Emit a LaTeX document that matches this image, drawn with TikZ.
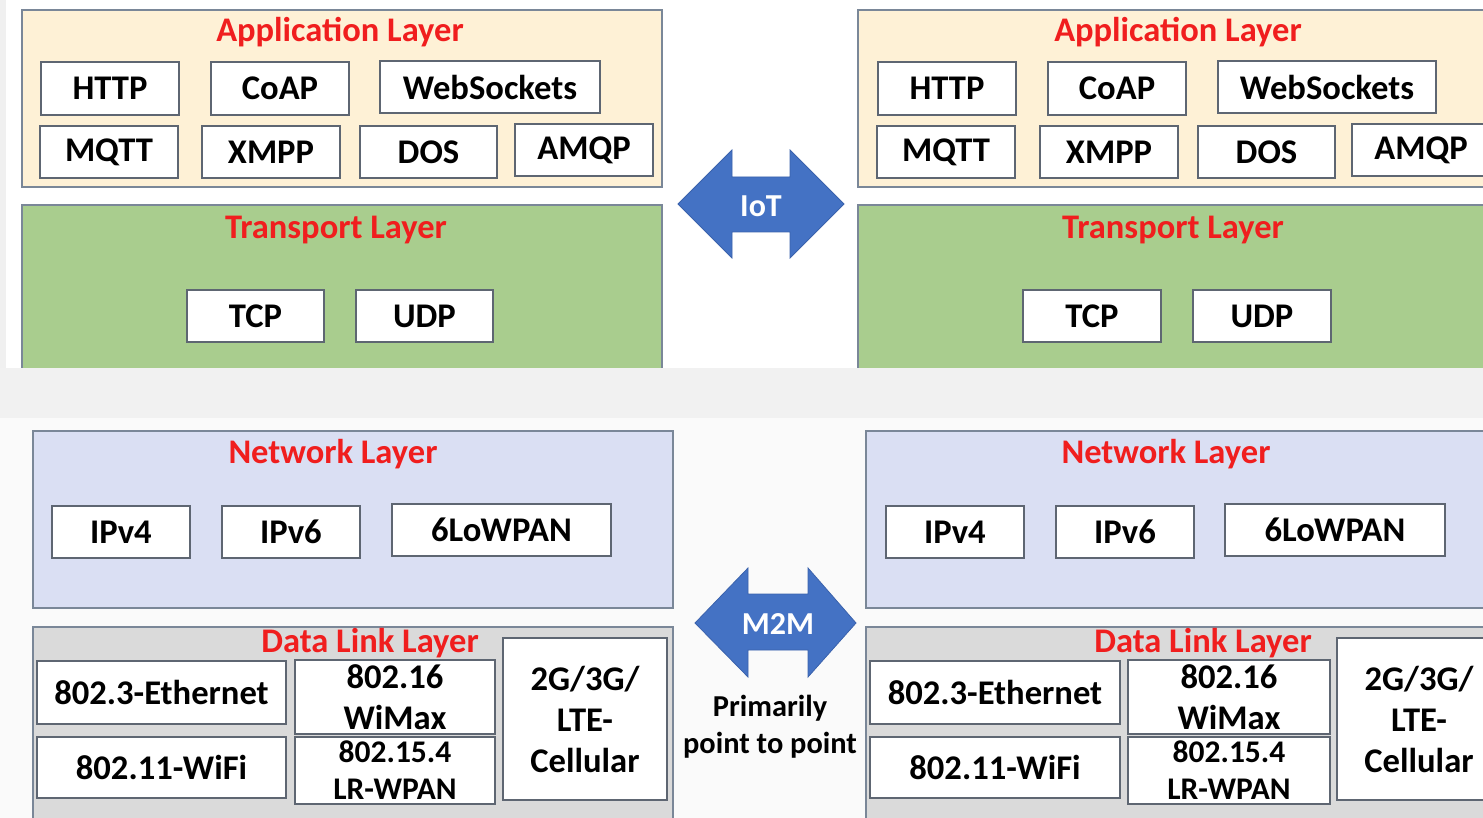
\documentclass[tikz,border=0pt]{standalone}
\usepackage{fontspec}
\setmainfont{Carlito}
\definecolor{appfill}{HTML}{FEF1D6}
\definecolor{trfill}{HTML}{A9CD8E}
\definecolor{netfill}{HTML}{DADFF3}
\definecolor{dlfill}{HTML}{DADADA}
\definecolor{layborder}{HTML}{7A8798}
\definecolor{boxborder}{HTML}{5E6672}
\definecolor{titlered}{HTML}{F01E1E}
\definecolor{arrowblue}{HTML}{4472C4}
\definecolor{arrowedge}{HTML}{3A62AC}
\definecolor{strip}{HTML}{F1F1F1}
\definecolor{lowbg}{HTML}{FAFAFA}
\tikzset{
  pbox/.style={draw=boxborder, line width=1.6pt, fill=white, inner sep=0pt,
    align=center, font=\fontsize{34.6}{41}\selectfont\bfseries},
  layer/.style={draw=layborder, line width=1.6pt},
  ltitle/.style={inner sep=0pt, text=titlered, font=\fontsize{34.5}{40}\selectfont\bfseries},
  arrowlbl/.style={inner sep=0pt, text=white, font=\fontsize{32}{38}\selectfont\bfseries},
  note/.style={inner sep=0pt, align=center, font=\fontsize{30.4}{37}\selectfont\bfseries},
  smallbox/.style={font=\fontsize{31.5}{37}\selectfont\bfseries}
}
\newcommand\pbx[7][]{\node[pbox,#1, minimum width={#5-#3}, minimum height={#6-#4}] (#2) at ({(#3+#5)/2},{(#4+#6)/2}) {#7};}
\begin{document}
\begin{tikzpicture}[x=1pt,y=-1pt]
\useasboundingbox (0,0) rectangle (1483,818);
\clip (0,0) rectangle (1483,818);
% backgrounds
\fill[white] (0,0) rectangle (1483,368);
\fill[black!6] (0,0) rectangle (6,368);
\fill[lowbg] (0,418) rectangle (1483,818);
% ===== top left =====
\draw[layer, fill=appfill] (22,10) rectangle (662,187);
\node[ltitle] (appL) at (340,32) {Application Layer};
\pbx{httpL}{41}{62}{179}{115}{HTTP}
\pbx{coapL}{211}{62}{349}{115}{CoAP}
\pbx{wsL}{380}{61}{600}{113}{WebSockets}
\pbx{mqttL}{40}{126}{178}{178}{MQTT}
\pbx{xmppL}{202}{126}{340}{178}{XMPP}
\pbx{dosL}{360}{126}{497}{178}{DOS}
\pbx{amqpL}{515}{124}{653}{176}{AMQP}
\draw[layer, fill=trfill] (22,205) rectangle (662,390);
\node[ltitle] (trL) at (336,230) {Transport Layer};
\pbx{tcpL}{187}{290}{324}{342}{TCP}
\pbx{udpL}{356}{290}{493}{342}{UDP}
% ===== top right =====
\draw[layer, fill=appfill] (858,10) rectangle (1500,187);
\node[ltitle] (appR) at (1178,32) {Application Layer};
\pbx{httpR}{878}{62}{1016}{115}{HTTP}
\pbx{coapR}{1048}{62}{1186}{115}{CoAP}
\pbx{wsR}{1218}{61}{1436}{113}{WebSockets}
\pbx{mqttR}{877}{126}{1015}{178}{MQTT}
\pbx{xmppR}{1040}{126}{1178}{178}{XMPP}
\pbx{dosR}{1198}{126}{1335}{178}{DOS}
\pbx{amqpR}{1352}{124}{1490}{176}{AMQP}
\draw[layer, fill=trfill] (858,205) rectangle (1500,390);
\node[ltitle] (trR) at (1173,230) {Transport Layer};
\pbx{tcpR}{1023}{290}{1161}{342}{TCP}
\pbx{udpR}{1193}{290}{1331}{342}{UDP}
% IoT arrow
\filldraw[fill=arrowblue, draw=arrowedge, line width=0.8pt]
  (678,204) -- (732,150) -- (732,177) -- (790,177) -- (790,150) -- (844,204)
  -- (790,258) -- (790,232) -- (732,232) -- (732,258) -- cycle;
\node[arrowlbl] (iot) at (761,206) {IoT};
% strip
\fill[strip] (0,368) rectangle (1483,418);
% ===== bottom left =====
\draw[layer, fill=netfill] (33,431) rectangle (673,608);
\node[ltitle] (netL) at (333,454) {Network Layer};
\pbx{ip4L}{52}{506}{190}{558}{IPv4}
\pbx{ip6L}{222}{506}{360}{558}{IPv6}
\pbx{lowL}{392}{504}{611}{556}{6LoWPAN}
\draw[layer, fill=dlfill] (33,627) rectangle (673,840);
\node[ltitle] (dlL) at (370,643) {Data Link Layer};
\pbx{ethL}{37}{661}{286}{724}{802.3-Ethernet}
\pbx{wifiL}{37}{737}{286}{798}{802.11-WiFi}
\pbx{wimaxL}{295}{660}{495}{734}{802.16\\WiMax}
\pbx[smallbox]{lrL}{295}{737}{495}{804}{802.15.4\\LR-WPAN}
\pbx{cellL}{503}{638}{667}{800}{2G/3G/\\LTE-\\Cellular}
% ===== bottom right =====
\draw[layer, fill=netfill] (866,431) rectangle (1500,608);
\node[ltitle] (netR) at (1166,454) {Network Layer};
\pbx{ip4R}{886}{506}{1024}{558}{IPv4}
\pbx{ip6R}{1056}{506}{1194}{558}{IPv6}
\pbx{lowR}{1225}{504}{1445}{556}{6LoWPAN}
\draw[layer, fill=dlfill] (866,627) rectangle (1500,840);
\node[ltitle] (dlR) at (1203,643) {Data Link Layer};
\pbx{ethR}{870}{661}{1120}{724}{802.3-Ethernet}
\pbx{wifiR}{870}{737}{1120}{798}{802.11-WiFi}
\pbx{wimaxR}{1128}{660}{1330}{734}{802.16\\WiMax}
\pbx[smallbox]{lrR}{1128}{737}{1330}{804}{802.15.4\\LR-WPAN}
\pbx{cellR}{1337}{638}{1501}{800}{2G/3G/\\LTE-\\Cellular}
% M2M arrow
\filldraw[fill=arrowblue, draw=arrowedge, line width=0.8pt]
  (695,623) -- (748,568) -- (748,594) -- (808,594) -- (808,568) -- (856,623)
  -- (808,677) -- (808,650) -- (748,650) -- (748,677) -- cycle;
\node[arrowlbl] (m2m) at (778,624) {M2M};
\node[note] (p2p) at (770,727) {Primarily\\point to point};
\end{tikzpicture}
\end{document}
